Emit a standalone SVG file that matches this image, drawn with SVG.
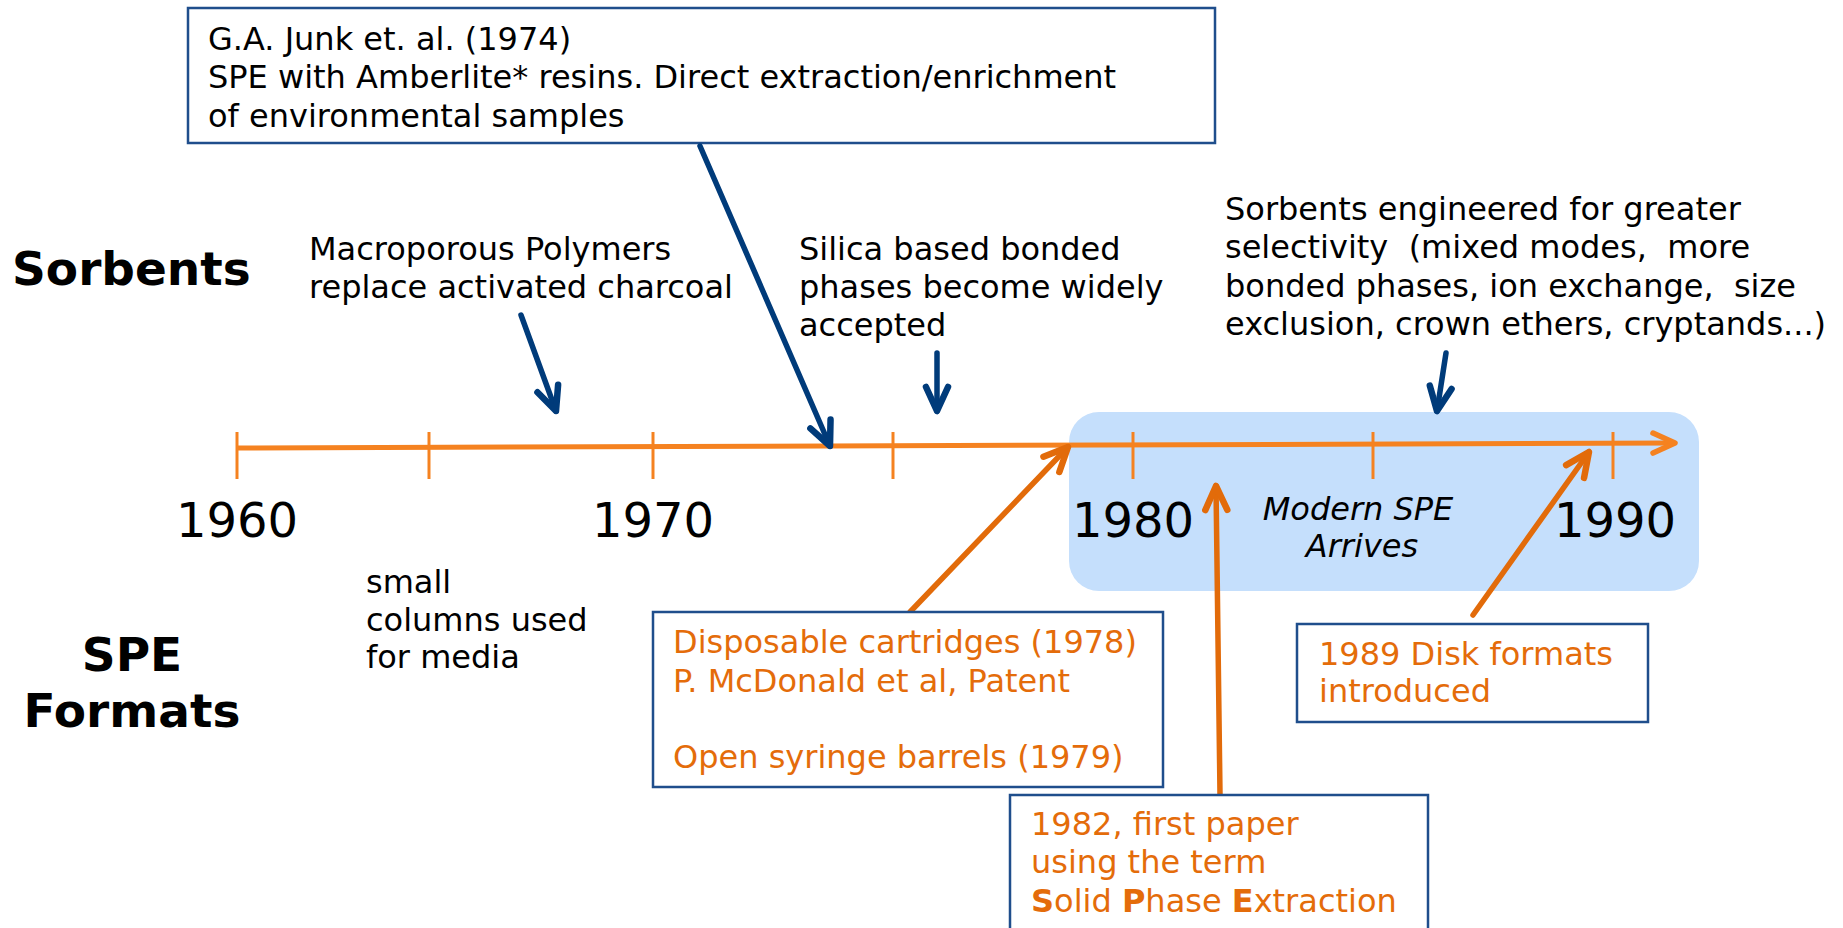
<svg xmlns="http://www.w3.org/2000/svg" width="1843" height="928" viewBox="0 0 1843 928">
<style>
text{font-family:"DejaVu Sans",Verdana,sans-serif;font-size:32px;fill:#000;white-space:pre}
.o{fill:#E46C0A}
.yr{font-size:48px;text-anchor:middle}
.hd{font-weight:bold;font-size:47px}
.it{font-style:italic;text-anchor:middle}
.box{fill:#fff;stroke:#1F4E8C;stroke-width:2.5}
.tick{stroke:#F58220;stroke-width:3}
.nv{stroke:#003B7A;stroke-width:5.5;fill:none;stroke-linecap:round;marker-end:url(#aNv)}
.or{stroke:#E26B0A;stroke-width:5.5;fill:none;stroke-linecap:round;marker-end:url(#aOr)}
</style>
<defs>
<marker id="aNv" markerUnits="userSpaceOnUse" orient="auto" markerWidth="40" markerHeight="40" viewBox="-30 -20 40 40" refX="0" refY="0" overflow="visible">
<path d="M-24,-11 L0,0 L-24,11" fill="none" stroke="#003B7A" stroke-width="6.5" stroke-linecap="round" stroke-linejoin="round"/>
</marker>
<marker id="aOr" markerUnits="userSpaceOnUse" orient="auto" markerWidth="40" markerHeight="40" viewBox="-30 -20 40 40" refX="0" refY="0" overflow="visible">
<path d="M-24,-11 L0,0 L-24,11" fill="none" stroke="#E26B0A" stroke-width="6.5" stroke-linecap="round" stroke-linejoin="round"/>
</marker>
<marker id="aTl" markerUnits="userSpaceOnUse" orient="auto" markerWidth="40" markerHeight="40" viewBox="-30 -20 40 40" refX="0" refY="0" overflow="visible">
<path d="M-22,-10 L0,0 L-22,10" fill="none" stroke="#F58220" stroke-width="5.5" stroke-linecap="round" stroke-linejoin="round"/>
</marker>
</defs>
<rect width="1843" height="928" fill="#fff"/>

<g id="modern-spe">
<rect x="1069" y="412" width="630" height="179" rx="30" ry="30" fill="#C5DFFC"/>
<text class="it" x="1358" y="520">Modern SPE</text>
<text class="it" x="1362" y="557">Arrives</text>
</g>

<g id="timeline">
<line x1="237" y1="448" x2="1675" y2="443" stroke="#F58220" stroke-width="5" marker-end="url(#aTl)"/>
<line class="tick" x1="237" y1="432" x2="237" y2="479"/>
<line class="tick" x1="429" y1="432" x2="429" y2="479"/>
<line class="tick" x1="653" y1="432" x2="653" y2="479"/>
<line class="tick" x1="893" y1="432" x2="893" y2="479"/>
<line class="tick" x1="1133" y1="432" x2="1133" y2="479"/>
<line class="tick" x1="1373" y1="432" x2="1373" y2="479"/>
<line class="tick" x1="1613" y1="432" x2="1613" y2="479"/>
<text class="yr" x="237" y="537">1960</text>
<text class="yr" x="653" y="537">1970</text>
<text class="yr" x="1133" y="537">1980</text>
<text class="yr" x="1615" y="537">1990</text>
</g>

<g id="labels">
<text class="hd" x="12" y="285">Sorbents</text>
<text class="hd" x="132" y="671" text-anchor="middle">SPE</text>
<text class="hd" x="132" y="727" text-anchor="middle">Formats</text>
</g>

<g id="macroporous">
<text x="309" y="260">Macroporous Polymers</text>
<text x="309" y="298">replace activated charcoal</text>
</g>

<g id="silica">
<text x="799" y="260">Silica based bonded</text>
<text x="799" y="298">phases become widely</text>
<text x="799" y="336">accepted</text>
</g>

<g id="engineered">
<text x="1225" y="220">Sorbents engineered for greater</text>
<text x="1225" y="258">selectivity  (mixed modes,  more</text>
<text x="1225" y="297">bonded phases, ion exchange,  size</text>
<text x="1225" y="335">exclusion, crown ethers, cryptands...)</text>
</g>

<g id="small-columns">
<text x="366" y="593">small</text>
<text x="366" y="631">columns used</text>
<text x="366" y="668">for media</text>
</g>

<g id="junk">
<rect class="box" x="188" y="8" width="1027" height="135"/>
<text x="208" y="50">G.A. Junk et. al. (1974)</text>
<text x="208" y="88">SPE with Amberlite* resins. Direct extraction/enrichment</text>
<text x="208" y="127">of environmental samples</text>
</g>

<g id="connectors">
<line class="nv" x1="521" y1="315" x2="556" y2="411"/>
<line class="nv" x1="700" y1="146" x2="830" y2="446"/>
<line class="nv" x1="937" y1="353" x2="937" y2="411"/>
<line class="nv" x1="1446" y1="353" x2="1437" y2="411"/>
<line class="or" x1="910" y1="612" x2="1068" y2="447"/>
<line class="or" x1="1220" y1="794" x2="1216" y2="486"/>
<line class="or" x1="1473" y1="615" x2="1589" y2="452"/>
</g>

<g id="disposable">
<rect class="box" x="653" y="612" width="510" height="175"/>
<text class="o" x="673" y="653">Disposable cartridges (1978)</text>
<text class="o" x="673" y="692">P. McDonald et al, Patent</text>
<text class="o" x="673" y="768">Open syringe barrels (1979)</text>
</g>

<g id="paper-1982">
<rect class="box" x="1010" y="795" width="418" height="150"/>
<text class="o" x="1031" y="835">1982, first paper</text>
<text class="o" x="1031" y="873">using the term</text>
<text class="o" x="1031" y="912"><tspan font-weight="bold">S</tspan>olid <tspan font-weight="bold">P</tspan>hase <tspan font-weight="bold">E</tspan>xtraction</text>
</g>

<g id="disk-1989">
<rect class="box" x="1297" y="624" width="351" height="98"/>
<text class="o" x="1319" y="665">1989 Disk formats</text>
<text class="o" x="1319" y="702">introduced</text>
</g>
</svg>
